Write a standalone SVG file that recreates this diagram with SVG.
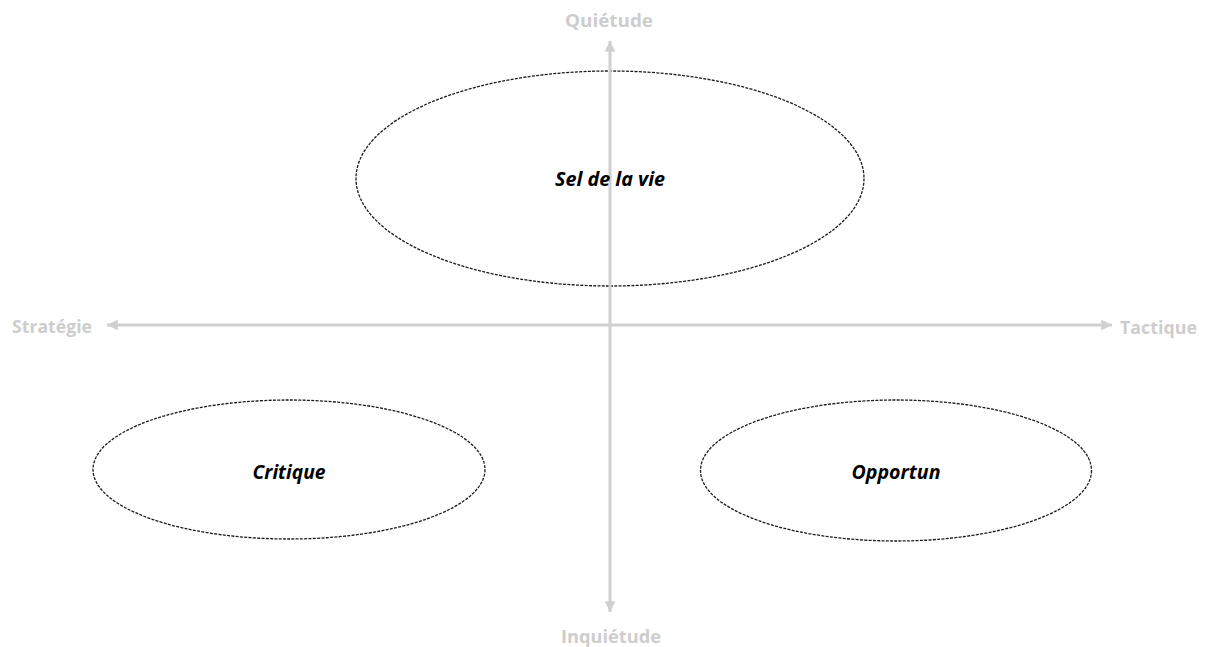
<svg xmlns="http://www.w3.org/2000/svg" width="1213" height="647" viewBox="0 0 1213 647">
<style>
.oval{fill:none;stroke:#1a1a1a;stroke-width:1.3;stroke-dasharray:3 1.3}
.lab{font-family:"Open Sans","Liberation Sans",sans-serif;font-weight:bold;font-style:italic;font-size:19px;fill:#000;text-anchor:middle}
.ax{stroke:#d0d0d0;stroke-width:3;fill:none}
.axlab{font-family:"Open Sans","Liberation Sans",sans-serif;font-weight:bold;font-size:18.5px;fill:#cdcdcd}
</style>
<defs>
<marker id="ah" viewBox="0 0 10 10" refX="10" refY="5" markerWidth="3.6" markerHeight="3.6" orient="auto" markerUnits="strokeWidth">
<path d="M0,0 L10,5 L0,10 Z" fill="#d0d0d0"/>
</marker>
</defs>
<rect width="1213" height="647" fill="#fff"/>
<g id="node-sel">
<ellipse class="oval" cx="610" cy="178.5" rx="254" ry="107.5"/>
</g>
<g id="node-critique">
<ellipse class="oval" cx="289" cy="469.5" rx="196" ry="69.5"/>
</g>
<g id="node-opportun">
<ellipse class="oval" cx="896" cy="470.5" rx="195.5" ry="70.5"/>
</g>
<g id="connectors">
<line class="ax" x1="610" y1="325" x2="610" y2="41" marker-end="url(#ah)"/>
<line class="ax" x1="610" y1="325" x2="610" y2="612" marker-end="url(#ah)"/>
<line class="ax" x1="610" y1="325" x2="107" y2="325" marker-end="url(#ah)"/>
<line class="ax" x1="610" y1="325" x2="1112" y2="325" marker-end="url(#ah)"/>
</g>
<g id="label-sel"><text class="lab" x="610" y="185.5" textLength="110" lengthAdjust="spacingAndGlyphs">Sel de la vie</text></g>
<g id="label-critique"><text class="lab" x="289" y="478.5" textLength="73" lengthAdjust="spacingAndGlyphs">Critique</text></g>
<g id="label-opportun"><text class="lab" x="896" y="478.5" textLength="89" lengthAdjust="spacingAndGlyphs">Opportun</text></g>
<g id="axis-quietude"><text class="axlab" x="565" y="27" textLength="88" lengthAdjust="spacingAndGlyphs">Quiétude</text></g>
<g id="axis-inquietude"><text class="axlab" x="561" y="643" textLength="100" lengthAdjust="spacingAndGlyphs">Inquiétude</text></g>
<g id="axis-strategie"><text class="axlab" x="12" y="333" textLength="80" lengthAdjust="spacingAndGlyphs">Stratégie</text></g>
<g id="axis-tactique"><text class="axlab" x="1120" y="334" textLength="77" lengthAdjust="spacingAndGlyphs">Tactique</text></g>
</svg>
